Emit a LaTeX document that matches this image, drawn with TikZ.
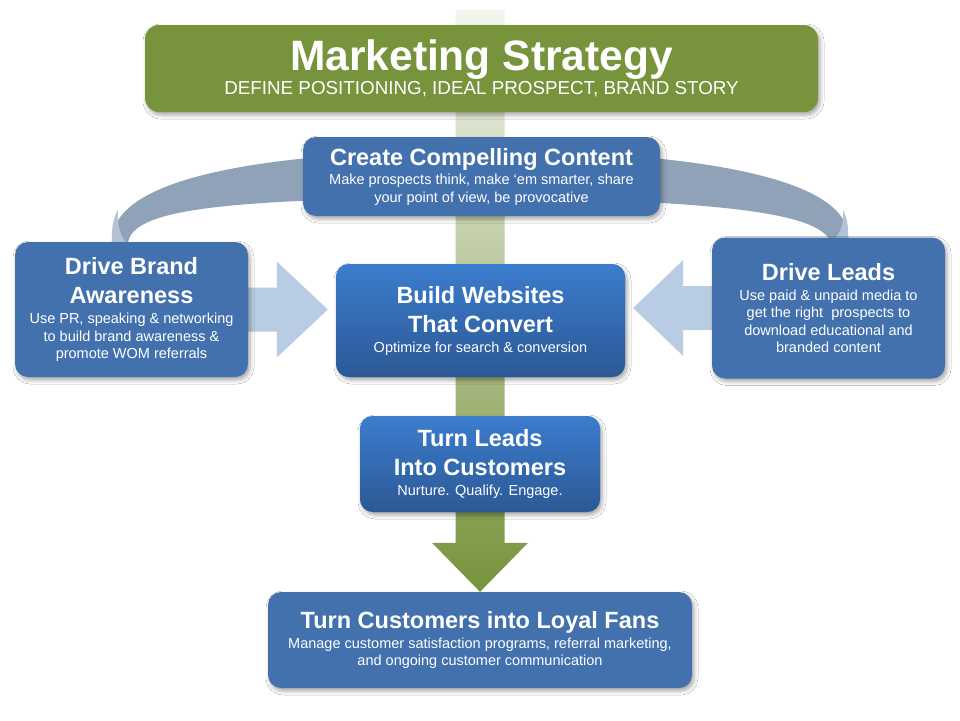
\documentclass[tikz,border=0pt]{standalone}
\usepackage{fontspec}
\setmainfont{Liberation Sans}
\usetikzlibrary{shadows.blur,backgrounds}

\definecolor{stratgreen}{HTML}{77933C}
\definecolor{barlight}{HTML}{F4F6EF}
\definecolor{barmid}{HTML}{B2C095}
\definecolor{boxblue}{HTML}{4271AD}
\definecolor{webtop}{HTML}{3B7DCD}
\definecolor{webbottom}{HTML}{2C5895}
\definecolor{ringgrey}{HTML}{8FA2B8}
\definecolor{ringlight}{HTML}{B4C2D3}
\definecolor{softblue}{HTML}{B8CCE4}

\newcommand\stagehead{\bfseries\fontsize{23.5}{29}\selectfont}
\newcommand\stagebody{\fontsize{14.5}{17.5}\selectfont}

\tikzset{
  stagebox/.style={rounded corners=13pt, fill=boxblue, text=white, align=center,
    inner sep=0pt, font=\stagebody,
    blur shadow={shadow xshift=2pt, shadow yshift=-3pt, shadow opacity=35, shadow blur radius=4pt}},
  shadedbox/.style={stagebox, top color=webtop, bottom color=webbottom},
  pusharrow/.style={fill=softblue},
}

\begin{document}
\begin{tikzpicture}[x=1pt,y=-1pt]
\useasboundingbox (0,0) rectangle (960,720);

% boxes
\node[stagebox, fill=stratgreen, rounded corners=14pt, minimum width=673, minimum height=87] (strategy) at (481.5,68.5)
  {{\bfseries\fontsize{42.5}{46}\selectfont Marketing Strategy}\\[1pt]
   {\fontsize{18.8}{20}\selectfont DEFINE POSITIONING, IDEAL PROSPECT, BRAND STORY}};
\node[stagebox, minimum width=357, minimum height=79] (content) at (481.5,176.5)
  {{\stagehead Create Compelling Content}\\[2pt]
   Make prospects think, make ‘em smarter, share\\
   your point of view, be provocative};
\node[stagebox, minimum width=233, minimum height=135] (brand) at (131.5,309.5)
  {{\stagehead Drive Brand}\\[11.5pt]
   {\stagehead Awareness}\\[2.5pt]
   Use PR, speaking \& networking\\
   to build brand awareness \&\\
   promote WOM referrals};
\node[shadedbox, minimum width=289, minimum height=113] (websites) at (480.5,320.5)
  {{\stagehead Build Websites}\\[11.5pt]
   {\stagehead That Convert}\\[2.5pt]
   Optimize for search \& conversion};
\node[stagebox, minimum width=233, minimum height=141] (leads) at (828.5,308)
  {{\stagehead Drive Leads}\\[2.5pt]
   Use paid \& unpaid media to\\
   get the right\ \ prospects to\\
   download educational and\\
   branded content};
\node[shadedbox, minimum width=240, minimum height=96] (customers) at (480,464)
  {{\stagehead Turn Leads}\\[11.5pt]
   {\stagehead Into Customers}\\[2.5pt]
   Nurture. Qualify. Engage.};
\node[stagebox, minimum width=424, minimum height=96] (fans) at (480,640)
  {{\stagehead Turn Customers into Loyal Fans}\\[2pt]
   Manage customer satisfaction programs, referral marketing,\\
   and ongoing customer communication};

\begin{scope}[on background layer]
\fill[white] (0,0) rectangle (960,720);
% ring behind the content box
\fill[ringgrey] (112,244) .. controls (108,185) and (230,152) .. (480,150)
  .. controls (730,152) and (852,185) .. (848,240) -- (830,240)
  .. controls (815,215) and (740,201) .. (480,197)
  .. controls (230,199) and (130,208) .. (128,244) -- cycle;
% lighter ring ends
\fill[ringlight] (112,244) .. controls (111,228) and (114,216) .. (118,210)
  .. controls (117,222) and (119,234) .. (127,244) -- cycle;
\fill[ringlight] (848,240) .. controls (849,228) and (847,218) .. (843,210)
  .. controls (844,222) and (841,232) .. (834,240) -- cycle;
% green flow arrow
\shade[top color=barlight, middle color=barmid, bottom color=stratgreen]
  (fans.north) -- ++(48,-49) -- ++(-23.5,0) -- ++(0,-533) -- ++(-49,0)
  -- ++(0,533) -- ++(-23.5,0) -- cycle;
% side arrows
\fill[pusharrow] ([xshift=-8pt]websites.west |- brand.east) -- ++(-51,-48) -- ++(0,26)
  -- ++(-34,0) -- ++(0,44) -- ++(34,0) -- ++(0,26) -- cycle;
\fill[pusharrow] ([xshift=8pt]websites.east |- leads.west) -- ++(50,-48) -- ++(0,26)
  -- ++(34,0) -- ++(0,44) -- ++(-34,0) -- ++(0,26) -- cycle;
\end{scope}
\end{tikzpicture}
\end{document}
